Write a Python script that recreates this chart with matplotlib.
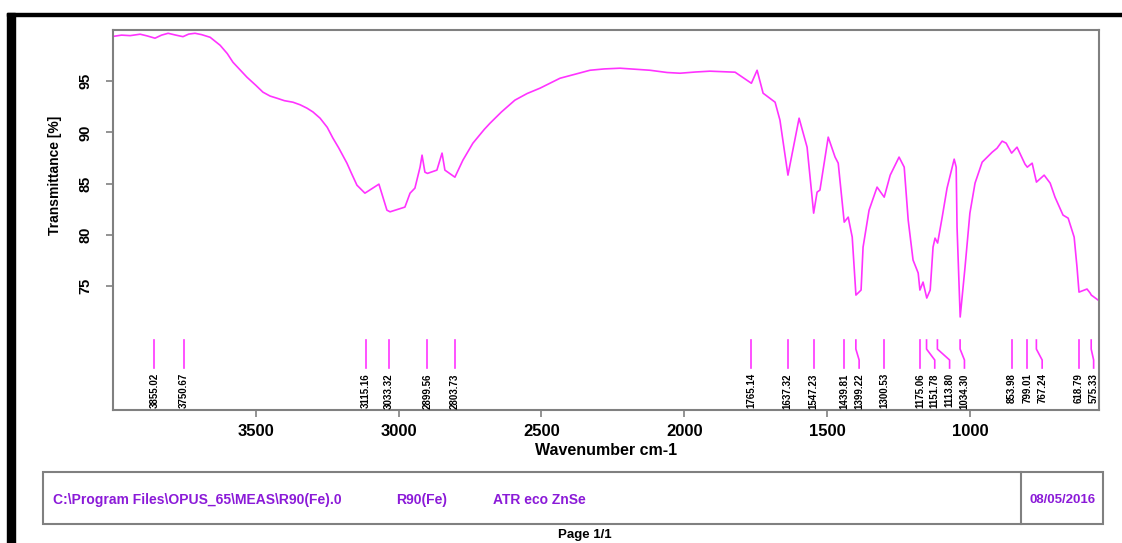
import numpy as np
import matplotlib
matplotlib.use('Agg')
import matplotlib.pyplot as plt
from matplotlib.patches import Rectangle

# spectrum (wavenumber cm-1, transmittance %)
wavenumber = [3996, 3970, 3940, 3905, 3880, 3853, 3830, 3807, 3780, 3755, 3735, 3713, 3690, 3660,
              3625, 3600, 3580, 3531, 3500, 3475, 3450, 3426, 3400, 3370, 3345, 3321, 3300, 3275,
              3250, 3230, 3210, 3181, 3165, 3146, 3118, 3069, 3041,
              3030, 2978, 2960, 2943, 2925, 2918, 2908, 2899, 2866, 2848, 2838, 2803, 2775, 2740,
              2700, 2680, 2640, 2593, 2550, 2505, 2435, 2380, 2330, 2280, 2225, 2120, 2060, 2015,
              1960, 1910, 1822, 1765, 1745, 1724, 1682,
              1665, 1637, 1598, 1570, 1547, 1535, 1525, 1496, 1472, 1461, 1440, 1426, 1412, 1399,
              1381, 1374, 1353, 1325, 1300, 1279, 1248, 1230, 1216, 1199, 1181, 1175, 1164, 1151,
              1139, 1129, 1122, 1113, 1097, 1080, 1055, 1048, 1045, 1034, 1017, 1000, 982, 957,
              922, 905, 887, 873, 854, 835, 807, 799, 782, 767, 740, 719, 702, 674, 656, 635,
              625, 618, 590, 579, 575, 551]
transmittance = [99.39, 99.50, 99.45, 99.59, 99.42, 99.20, 99.50, 99.68, 99.50, 99.35, 99.60, 99.68, 99.55, 99.29,
                 98.51, 97.70, 96.85, 95.39, 94.60, 93.93, 93.55, 93.34, 93.10, 92.95, 92.70, 92.37, 92.00, 91.39,
                 90.50, 89.44, 88.50, 87.00, 86.00, 84.85, 84.07, 84.95, 82.41,
                 82.25, 82.71, 84.07, 84.56, 86.61, 87.78, 86.12, 86.00, 86.32, 87.98, 86.32, 85.63, 87.29, 88.95,
                 90.30, 90.90, 92.00, 93.15, 93.80, 94.32, 95.29, 95.70, 96.07, 96.20, 96.27, 96.07, 95.85, 95.78,
                 95.90, 95.98, 95.88, 94.80, 96.07, 93.83, 92.95,
                 91.20, 85.83, 91.39, 88.56, 82.12, 84.17, 84.37, 89.54, 87.59, 87.00, 81.24, 81.73, 79.78, 74.12,
                 74.61, 78.80, 82.41, 84.66, 83.68, 85.83, 87.59, 86.61, 81.44, 77.54, 76.27, 74.61, 75.39, 73.83,
                 74.61, 78.80, 79.68, 79.20, 81.73, 84.56, 87.39, 86.61, 80.76, 71.98, 76.85, 82.12, 85.05, 87.10,
                 88.07, 88.46, 89.15, 88.95, 87.98, 88.56, 86.90, 86.61, 87.00, 85.15, 85.83, 85.05, 83.68, 81.93, 81.63, 79.78,
                 76.85, 74.41, 74.71, 74.32, 74.12, 73.63]

peaks = [3855.02, 3750.67, 3115.16, 3033.32, 2899.56, 2803.73, 1765.14, 1637.32, 1547.23,
         1439.81, 1399.22, 1300.53, 1175.06, 1151.78, 1113.80, 1034.30, 853.98, 799.01,
         767.24, 618.79, 575.33]

x_ticks = [3500, 3000, 2500, 2000, 1500, 1000]
y_ticks = [75, 80, 85, 90, 95]

footer_file = r'C:\Program Files\OPUS_65\MEAS\R90(Fe).0'
footer_sample = 'R90(Fe)'
footer_method = 'ATR eco ZnSe'
footer_date = '08/05/2016'

W, H = 1122, 543
magenta = '#ff33ff'
grey = '#808080'
purple = '#8b1ad8'
plt.rcParams['font.family'] = ['Liberation Sans', 'DejaVu Sans']

fig = plt.figure(figsize=(W / 100, H / 100), dpi=100)

def fx(px):
    return px / W

def fy(py):
    return 1 - py / H

ax = fig.add_axes([fx(113), fy(410), fx(1099) - fx(113), fy(30) - fy(410)])
ax.plot(wavenumber, transmittance, color=magenta, lw=1.2)
ax.set_xlim(4000, 548)
ax.set_ylim(62.9, 100)

# peak markers, labels pushed apart with a bent leader line when crowded
min_gap = 52
prev = None
for p in peaks:
    lx = p if prev is None else min(p, prev - min_gap)
    prev = lx
    if abs(lx - p) < 1e-6:
        ax.plot([p, p], [69.73, 67.0], color=magenta, lw=1.2)
    else:
        ax.plot([p, p, lx, lx], [69.73, 68.85, 67.78, 67.0], color=magenta, lw=1.2)
    ax.text(lx, 66.5, '{0:.2f}'.format(p), rotation=90, ha='center', va='top',
            fontsize=7, fontweight='bold')

for s in ax.spines.values():
    s.set_color(grey)
    s.set_linewidth(1.5)
ax.set_xticks(x_ticks)
ax.set_xticklabels([str(t) for t in x_ticks], fontsize=12, fontweight='bold')
ax.set_yticks(y_ticks)
ax.set_yticklabels([str(t) for t in y_ticks], fontsize=10.5, fontweight='bold',
                   rotation=90, va='center')
ax.tick_params(axis='both', direction='out', length=5, width=1.2, color=grey)
ax.tick_params(axis='x', pad=5)
ax.tick_params(axis='y', pad=10)
ax.set_xlabel('Wavenumber cm-1', fontsize=11.5, fontweight='bold', labelpad=3)
fig.text(fx(55), fy(175), 'Transmittance [%]', rotation=90, ha='center', va='center',
         fontsize=10, fontweight='bold')

# outer page frame
fig.patches.append(Rectangle((fx(7), fy(16)), 1 - fx(7), fy(13) - fy(16),
                             transform=fig.transFigure, color='black', zorder=5))
fig.patches.append(Rectangle((fx(7), 0), fx(15) - fx(7), fy(13),
                             transform=fig.transFigure, color='black', zorder=5))

# footer box
fig.patches.append(Rectangle((fx(43), fy(524)), fx(1103) - fx(43), fy(472) - fy(524),
                             transform=fig.transFigure, fill=False, edgecolor=grey, lw=1.5))
fig.add_artist(plt.Line2D([fx(1021), fx(1021)], [fy(524), fy(472)], color=grey, lw=1.5))
fig.text(fx(53), fy(500), footer_file, ha='left', va='center', fontsize=10, fontweight='bold', color=purple)
fig.text(fx(396), fy(500), footer_sample, ha='left', va='center', fontsize=10, fontweight='bold', color=purple)
fig.text(fx(493), fy(500), footer_method, ha='left', va='center', fontsize=10, fontweight='bold', color=purple)
fig.text(fx(1063), fy(500), footer_date, ha='center', va='center', fontsize=9.5, fontweight='bold', color=purple)
fig.text(fx(585), fy(535), 'Page 1/1', ha='center', va='center', fontsize=9.5, fontweight='bold')

fig.savefig('out.png', dpi=100)
